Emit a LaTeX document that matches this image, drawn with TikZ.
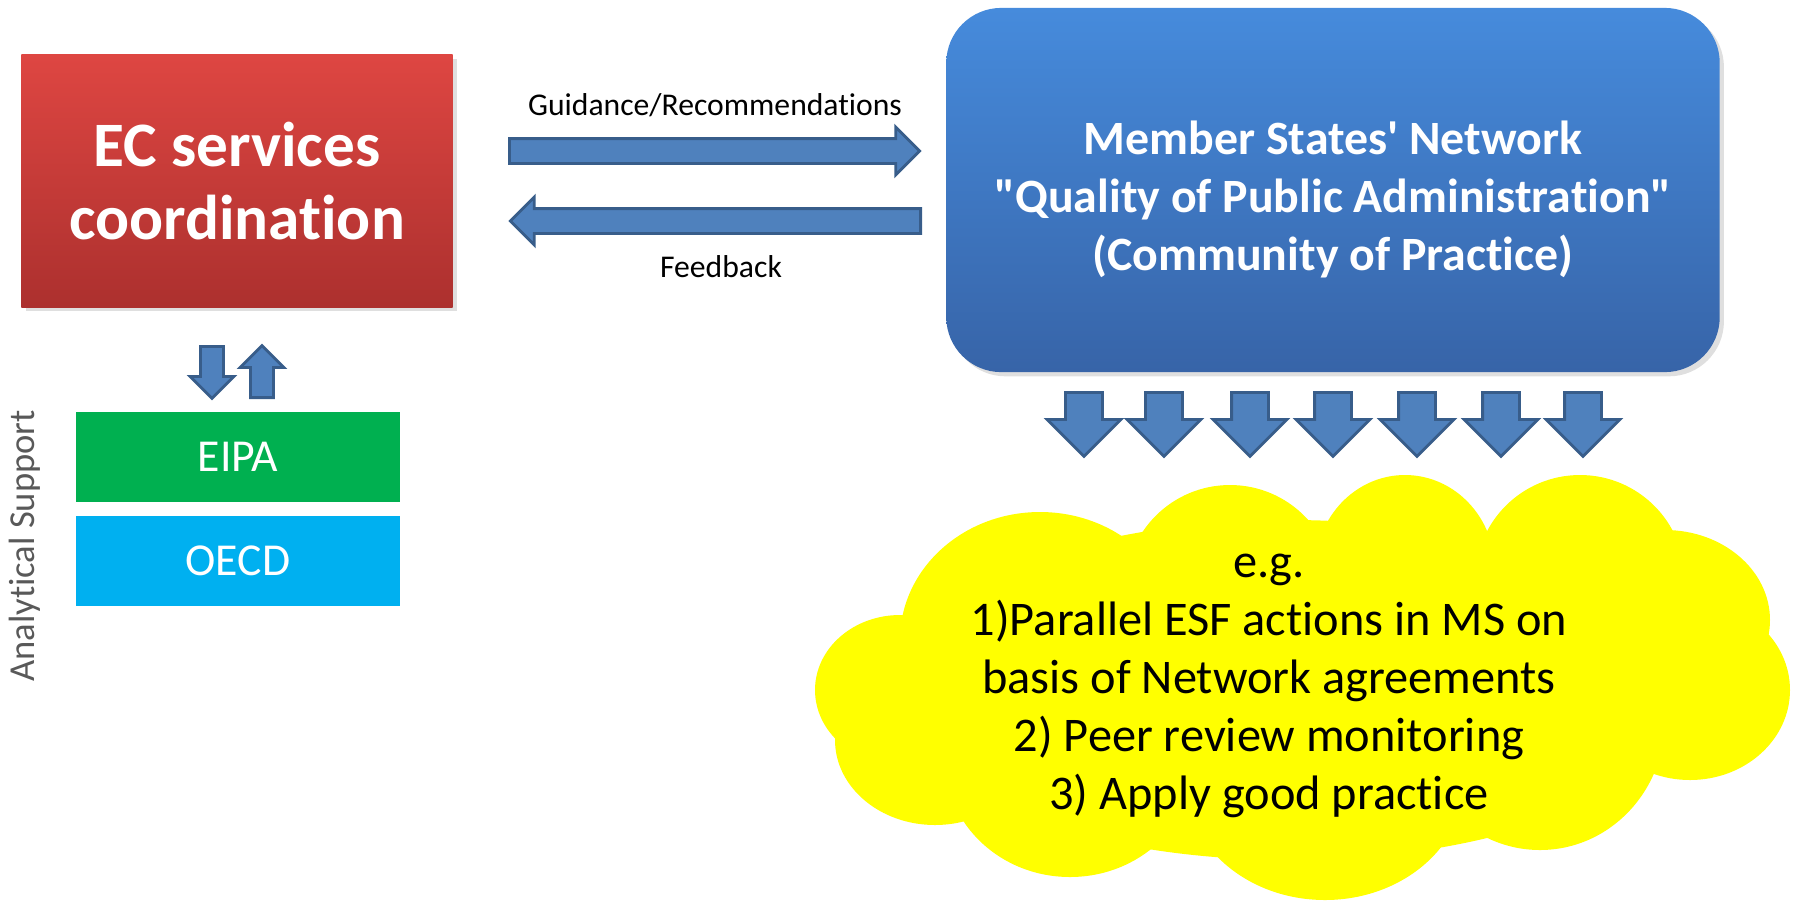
\documentclass[tikz,border=0pt]{standalone}
\usepackage{fontspec}
\setmainfont{Carlito}[Ligatures=NoCommon]
\usetikzlibrary{shapes.arrows,shadows}

\definecolor{arrowfill}{RGB}{79,129,189}
\definecolor{arrowline}{RGB}{56,93,138}
\definecolor{ectop}{RGB}{222,70,66}
\definecolor{ecbottom}{RGB}{172,48,46}
\definecolor{mstop}{RGB}{70,139,220}
\definecolor{msbottom}{RGB}{55,100,168}
\definecolor{eipagreen}{RGB}{0,176,80}
\definecolor{oecdblue}{RGB}{0,176,240}
\definecolor{cloudyellow}{RGB}{255,255,0}
\definecolor{sidegray}{RGB}{89,89,89}

\tikzset{
  blockarrow/.style={single arrow, draw=arrowline, fill=arrowfill, line width=0.8pt,
    single arrow tip angle=90, anchor=tail},
  supportbox/.style={inner sep=0pt, minimum width=32.3mm, minimum height=8.9mm,
    text=white, font=\fontsize{13}{15}\selectfont},
}

\begin{document}
\begin{tikzpicture}[x=0.01cm,y=-0.01cm]
\useasboundingbox (0,0) rectangle (1796,902);

\node[top color=ectop,bottom color=ecbottom,minimum width=43.1mm,minimum height=25.2mm,
  drop shadow={shadow xshift=1.2pt,shadow yshift=-1.2pt,opacity=0.25},
  text=white,align=center,font=\fontsize{18}{21}\bfseries\selectfont] (EC) at (237,181) {EC services\\coordination};

\node[top color=mstop,bottom color=msbottom,rounded corners=5.5mm,minimum width=77.3mm,minimum height=36.4mm,
  drop shadow={shadow xshift=1.2pt,shadow yshift=-1.2pt,opacity=0.25}] (MSN) at (1333,190) {};
\node[text=white,align=center,font=\fontsize{13.6}{16.5}\bfseries\selectfont] (MSNtxt) at (1333,199)
  {Member States\textquotesingle{} Network\\\textquotedbl Quality of Public Administration\textquotedbl\\(Community of Practice)};

\node[blockarrow,minimum height=41.0mm,inner xsep=0pt,inner ysep=1.1mm,single arrow head extend=1.15mm] (Guide) at (508,151) {};
\node[blockarrow,minimum height=41.0mm,inner xsep=0pt,inner ysep=1.1mm,single arrow head extend=1.15mm,shape border rotate=180] (Feed) at (922,221) {};
\node[anchor=base,font=\fontsize{9}{11}\selectfont] (GuideLbl) at (715,115) {Guidance/Recommendations};
\node[anchor=base,font=\fontsize{9}{11}\selectfont] (FeedLbl) at (721,277) {Feedback};

\node[blockarrow,minimum height=5.2mm,inner ysep=0pt,inner xsep=1.0mm,single arrow head extend=1.05mm,shape border rotate=270] (Down) at (212,345) {};
\node[blockarrow,minimum height=5.2mm,inner ysep=0pt,inner xsep=1.0mm,single arrow head extend=1.05mm,shape border rotate=90] (Up) at (262,399) {};

\node[supportbox,fill=eipagreen] (EIPA) at (238,457) {EIPA};
\node[supportbox,fill=oecdblue] (OECD) at (238,561) {OECD};
\node[rotate=90,text=sidegray,font=\fontsize{10.4}{12}\selectfont] (Support) at (25,546) {Analytical Support};

% cloud of examples
\foreach \cx/\cy/\rx/\ry in {900/690/85/75, 935/740/100/85, 1070/760/125/117, 1325/780/140/120,
  1540/720/125/130, 1690/690/100/90, 1665/620/105/90, 1580/580/105/105, 1405/570/90/95,
  1230/590/105/105, 1040/640/140/128, 1290/690/400/170}
  \fill[cloudyellow] (\cx,\cy) ellipse [x radius=\rx, y radius=\ry];

\foreach \ax [count=\i] in {1084,1164,1250,1333,1417,1501,1583}
  \node[blockarrow,minimum height=6.4mm,inner ysep=0pt,inner xsep=1.7mm,single arrow head extend=1.85mm,shape border rotate=270] (Out\i) at (\ax,391) {};

\node[align=center,font=\fontsize{13.75}{16.5}\selectfont] (Examples) at (1269,686)
  {e.g.\\1)Parallel ESF actions in MS on\\basis of Network agreements\\2) Peer review monitoring\\3) Apply good practice};
\end{tikzpicture}
\end{document}
